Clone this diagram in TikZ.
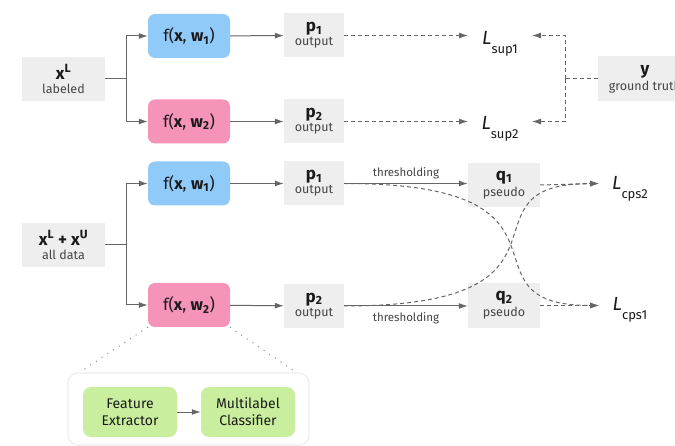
\documentclass[tikz,border=0pt]{standalone}
\usepackage{fontspec}
\setmainfont{Fira Sans}
\usetikzlibrary{arrows.meta}

\definecolor{boxgray}{HTML}{EEEEEE}
\definecolor{netblue}{HTML}{90CAF9}
\definecolor{netpink}{HTML}{F693B9}
\definecolor{modgreen}{HTML}{C9EE9E}
\definecolor{linegray}{HTML}{666666}
\definecolor{textgray}{HTML}{444444}
\definecolor{textdark}{HTML}{1A1A1A}

\newcommand{\bigf}{\fontsize{17}{18}\selectfont}
\newcommand{\smallf}{\fontsize{12.5}{13}\selectfont}
\newcommand{\datalbl}[2]{{\bigf\bfseries #1}\\[2pt]{\smallf\color{textgray}#2}}
\newcommand{\netlbl}[1]{f(\textbf{x}, \textbf{w}\textsubscript{\textbf{#1}})}
\newcommand{\losslbl}[1]{{\fontsize{19}{19}\selectfont\itshape L}\raisebox{-9pt}{\fontsize{13}{13}\selectfont #1}}

\tikzset{
	data/.style={fill=boxgray, inner sep=0pt, align=center, text=textdark},
	net/.style={rounded corners=7pt, minimum width=82pt, minimum height=44pt, inner sep=0pt, text=textdark, font=\fontsize{16.5}{17}\selectfont},
	module/.style={fill=modgreen, rounded corners=8pt, minimum width=94pt, minimum height=50pt, inner sep=0pt, align=center, text=textdark, font=\fontsize{14}{17}\selectfont},
	loss/.style={inner sep=0pt, text=textdark, anchor=center},
	flow/.style={draw=linegray, line width=1pt, -{Latex[length=9pt,width=6pt]}},
	lossflow/.style={flow, dashed, dash pattern=on 4pt off 3pt},
	tie/.style={draw=linegray, line width=1pt},
}

\begin{document}
\begin{tikzpicture}[x=1pt,y=-1pt]
	\useasboundingbox[fill=white] (0,0) rectangle (675,446);

	% supervised branch
	\node[data, minimum width=83pt, minimum height=44pt] (xl) at (63.5,79) {\datalbl{x\textsuperscript{L}}{labeled}};
	\node[net, fill=netblue] (fa) at (189,36) {\netlbl{1}};
	\node[net, fill=netpink] (fb) at (189,121.5) {\netlbl{2}};
	\node[data, minimum width=60pt, minimum height=44pt] (pa) at (314,35.5) {\datalbl{p\textsubscript{1}}{output}};
	\node[data, minimum width=60pt, minimum height=44pt] (pb) at (314,121.5) {\datalbl{p\textsubscript{2}}{output}};
	\node[loss] (lsa) at (500,44) {\losslbl{sup1}};
	\node[loss] (lsb) at (500,129) {\losslbl{sup2}};
	\node[data, minimum width=94pt, minimum height=45pt] (gt) at (645,79) {\datalbl{y}{ground truth}};
	\coordinate (splita) at (126,79);
	\coordinate (mergea) at (565,79);

	\draw[tie] (xl.east) -- (splita);
	\draw[flow] (splita) |- (fa.west);
	\draw[flow] (splita) |- (fb.west);
	\draw[flow] (fa) -- (pa);
	\draw[flow] (fb) -- (pb);
	\draw[lossflow] (pa.east) -- (468,35.5);
	\draw[lossflow] (pb.east) -- (468,121.5);
	\draw[tie, dashed, dash pattern=on 4pt off 3pt] (gt.west) -- (mergea);
	\draw[lossflow] (mergea) |- (532,35.5);
	\draw[lossflow] (mergea) |- (532,121.5);

	% cross pseudo supervision branch
	\node[data, minimum width=83pt, minimum height=44pt] (xall) at (63.5,245) {\datalbl{x\textsuperscript{L} + x\textsuperscript{U}}{all data}};
	\node[net, fill=netblue] (fc) at (189,183.5) {\netlbl{1}};
	\node[net, fill=netpink] (fd) at (189,305) {\netlbl{2}};
	\node[data, minimum width=60pt, minimum height=44pt] (pc) at (314,183.5) {\datalbl{p\textsubscript{1}}{output}};
	\node[data, minimum width=60pt, minimum height=44pt] (pd) at (314,306) {\datalbl{p\textsubscript{2}}{output}};
	\node[data, minimum width=72pt, minimum height=44pt] (qa) at (504,185) {\datalbl{q\textsubscript{1}}{pseudo}};
	\node[data, minimum width=72pt, minimum height=45pt] (qb) at (504,305.5) {\datalbl{q\textsubscript{2}}{pseudo}};
	\node[loss] (lca) at (630,189) {\losslbl{cps2}};
	\node[loss] (lcb) at (630,310) {\losslbl{cps1}};
	\coordinate (splitb) at (126,245);

	\draw[tie] (xall.east) -- (splitb);
	\draw[flow] (splitb) |- (fc.west);
	\draw[flow] (splitb) |- (fd.west);
	\draw[flow] (fc) -- (pc);
	\draw[flow] (fd) -- (pd);
	\draw[flow] (pc.east) -- node[above=1pt, font=\fontsize{11.5}{12}\selectfont, text=textgray] {thresholding} (qa.west |- pc.east);
	\draw[flow] (pd.east) -- node[below=3pt, font=\fontsize{11.5}{12}\selectfont, text=textgray] {thresholding} (qb.west |- pd.east);
	\draw[lossflow] (qa.east) -- (599,183.5);
	\draw[lossflow] (qb.east) -- (599,305.5);
	\draw[lossflow] (pc.east) .. controls (600,183.5) and (450,305.5) .. (599,305.5);
	\draw[lossflow] (pd.east) .. controls (600,306) and (450,183.5) .. (599,183.5);

	% inside the network
	\node[draw=boxgray, line width=1.2pt, fill=white, rounded corners=10pt, minimum width=241pt, minimum height=72pt] (inner) at (188.5,409) {};
	\node[module] (fe) at (130,412) {Feature\\Extractor};
	\node[module] (mc) at (248,412) {Multilabel\\Classifier};
	\draw[flow] (fe) -- (mc);
	\draw[linegray!80, line width=1.2pt, dotted, dash pattern=on 0.8pt off 6pt] (fd.south west) -- (80,372);
	\draw[linegray!80, line width=1.2pt, dotted, dash pattern=on 0.8pt off 6pt] (fd.south east) -- (294,371);
\end{tikzpicture}
\end{document}
